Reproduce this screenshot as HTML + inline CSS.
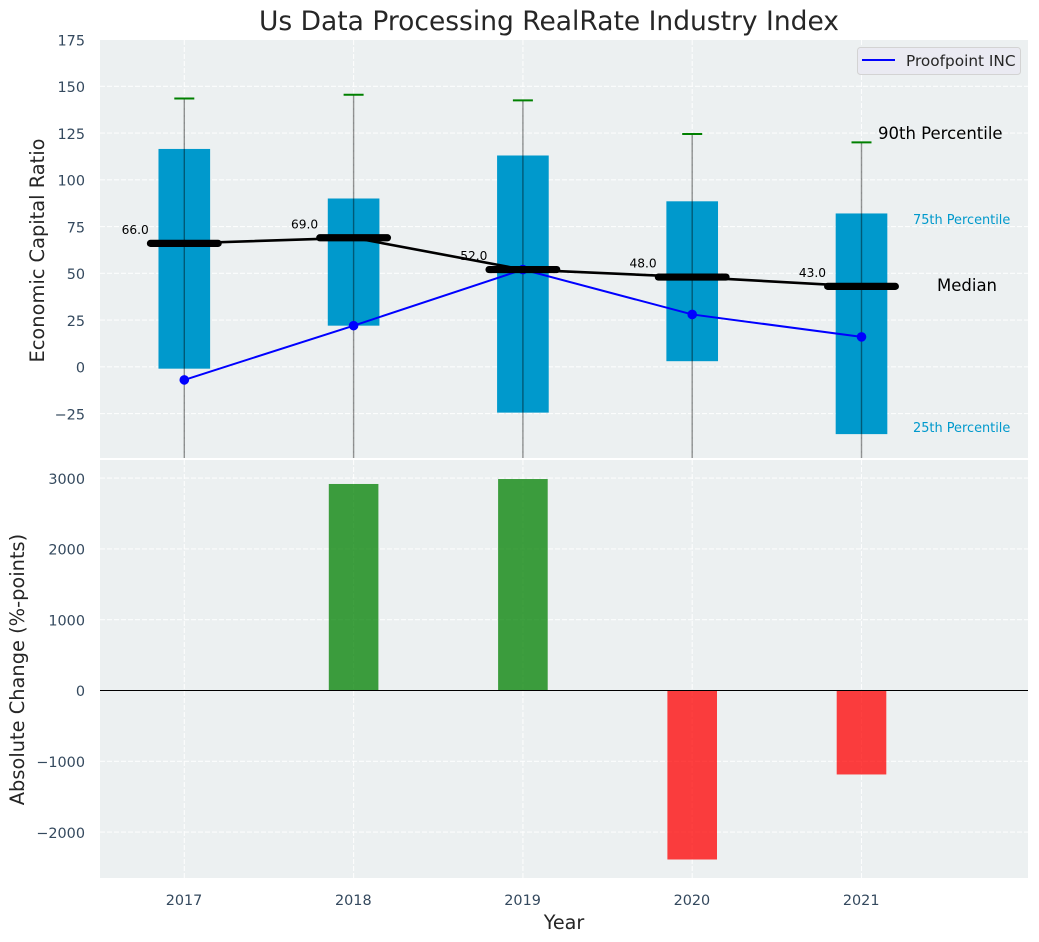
<!DOCTYPE html>
<html lang="en">
<head>
<meta charset="utf-8">
<title>Us Data Processing RealRate Industry Index</title>
<style>
html,body{margin:0;padding:0;background:#fff;width:1039px;height:942px;overflow:hidden}
svg{display:block}
text{font-family:"DejaVu Sans","Liberation Sans",sans-serif}
</style>
</head>
<body>
<svg id="chart" xmlns="http://www.w3.org/2000/svg" width="1039" height="942" viewBox="0 0 1039 942">
  <defs>
    <clipPath id="topClip"><rect x="100" y="40" width="928" height="418"/></clipPath>
    <clipPath id="bottomClip"><rect x="100" y="460" width="928" height="418"/></clipPath>
  </defs>
  <text x="549" y="30" text-anchor="middle" font-size="26.5" fill="#262626">Us Data Processing RealRate Industry Index</text>
  <rect x="100" y="40" width="928" height="418" fill="#ecf0f1"/>
  <rect x="100" y="460" width="928" height="418" fill="#ecf0f1"/>
  <g id="topGrid"></g>
  <g id="bottomGrid"></g>
  <g id="topMarks" clip-path="url(#topClip)"></g>
  <g id="bottomMarks" clip-path="url(#bottomClip)"></g>
  <g id="labels"></g>
  <text x="44" y="250.5" transform="rotate(-90 44 250.5)" text-anchor="middle" font-size="19.4" fill="#262626">Economic Capital Ratio</text>
  <text x="24" y="669.5" transform="rotate(-90 24 669.5)" text-anchor="middle" font-size="19.4" fill="#262626">Absolute Change (%-points)</text>
  <text x="564" y="929" text-anchor="middle" font-size="19.2" fill="#262626">Year</text>
  <text x="878" y="139" font-size="16.5" fill="#000">90th Percentile</text>
  <text x="913" y="224" font-size="12.9" fill="#0099cc">75th Percentile</text>
  <text x="937" y="291" font-size="16.5" fill="#000">Median</text>
  <text x="913" y="432" font-size="12.9" fill="#0099cc">25th Percentile</text>
  <g>
    <rect x="857.5" y="47.5" width="163" height="27" rx="3" fill="#eaeaf2" stroke="#d3d3d3"/>
    <line x1="862" y1="60" x2="895" y2="60" stroke="#0000ff" stroke-width="2"/>
    <text x="906" y="66" font-size="15.3" fill="#262626">Proofpoint INC</text>
  </g>
</svg>
<script>
const years = [2017, 2018, 2019, 2020, 2021];
const p90 = [143.5, 145.5, 142.5, 124.5, 120];
const p75 = [116.5, 90, 113, 88.5, 82];
const medians = [66, 69, 52, 48, 43];
const p25 = [-1, 22, -24.5, 3, -36];
const p10 = [-70, -70, -75, -60, -80];
const company = [-7, 22, 52, 28, 16];
const changes = [null, 2917, 2987, -2387, -1186];
const topTicks = [175, 150, 125, 100, 75, 50, 25, 0, -25];
const bottomTicks = [3000, 2000, 1000, 0, -1000, -2000];

const NS = 'http://www.w3.org/2000/svg';
const xScale = v => 184.3 + (v - 2017) * 169.3;
const yTop = v => 366.8 - v * 1.87;
const yBottom = v => 690.5 - v * 0.0708;
const widthX = w => w * 169.3;

function make(tag, attrs, parent) {
  const el = document.createElementNS(NS, tag);
  for (const k in attrs) el.setAttribute(k, attrs[k]);
  parent.appendChild(el);
  return el;
}

const topGrid = document.getElementById('topGrid');
const bottomGrid = document.getElementById('bottomGrid');
const topMarks = document.getElementById('topMarks');
const bottomMarks = document.getElementById('bottomMarks');
const labels = document.getElementById('labels');
const gridStyle = {stroke: '#ffffff', 'stroke-width': 1.1, 'stroke-dasharray': '5 2', 'stroke-opacity': 0.85};

topTicks.forEach(t => {
  const y = yTop(t);
  if (y > 41) {
    const g = make('line', {x1: 100, x2: 1028, y1: y, y2: y, ...gridStyle}, topGrid);
    
    
  }
  const l = make('text', {x: 85, y: y + 5.7, 'text-anchor': 'end', 'font-size': 14.4, fill: '#34495e'}, labels);
  
  
  l.textContent = String(t).replace('-', '\u2212');
});

bottomTicks.forEach(t => {
  const y = yBottom(t);
  const g = make('line', {x1: 100, x2: 1028, y1: y, y2: y, ...gridStyle}, bottomGrid);
  
  
  const l = make('text', {x: 85, y: y + 5.7, 'text-anchor': 'end', 'font-size': 14.4, fill: '#34495e'}, labels);
  
  
  l.textContent = String(t).replace('-', '\u2212');
});

years.forEach(yr => {
  const x = xScale(yr);
  const a = make('line', {x1: x, x2: x, y1: 40, y2: 458, ...gridStyle}, topGrid);
  
  
  const b = make('line', {x1: x, x2: x, y1: 460, y2: 878, ...gridStyle}, bottomGrid);
  
  
  const l = make('text', {x: x - 0.3, y: 905, 'text-anchor': 'middle', 'font-size': 14.4, fill: '#34495e'}, labels);
  
  
  l.textContent = yr;
});

years.forEach((yr, i) => {
  const x = xScale(yr);
  const bw = widthX(0.305);
  const box = make('rect', {x: x - bw / 2, y: yTop(p75[i]), width: bw, height: yTop(p25[i]) - yTop(p75[i]), fill: '#0099cc'}, topMarks);
  
  
  const w = make('line', {x1: x, x2: x, y1: yTop(p90[i]), y2: yTop(p10[i]), stroke: '#000', 'stroke-opacity': 0.42, 'stroke-width': 1.4}, topMarks);
  
  
  const c = make('line', {x1: x - 10, x2: x + 10, y1: yTop(p90[i]), y2: yTop(p90[i]), stroke: '#008000', 'stroke-width': 2}, topMarks);
  
  
});

const bluePts = years.map((yr, i) => xScale(yr) + ',' + yTop(company[i])).join(' ');
const blue = make('polyline', {points: bluePts, fill: 'none', stroke: '#0000ff', 'stroke-width': 2}, topMarks);


years.forEach((yr, i) => {
  const d = make('circle', {cx: xScale(yr), cy: yTop(company[i]), r: 4.8, fill: '#0000ff'}, topMarks);
  
  
});

years.forEach((yr, i) => {
  const t = make('text', {x: xScale(yr) - 35.5, y: yTop(medians[i]) - 9.5, 'text-anchor': 'end', 'font-size': 12.2, fill: '#000'}, topMarks);
  
  
  t.textContent = medians[i].toFixed(1);
});

const medPts = years.map((yr, i) => xScale(yr) + ',' + yTop(medians[i])).join(' ');
const medLine = make('polyline', {points: medPts, fill: 'none', stroke: '#000', 'stroke-width': 2.6}, topMarks);


years.forEach((yr, i) => {
  const x = xScale(yr);
  const half = widthX(0.2);
  const m = make('line', {x1: x - half, x2: x + half, y1: yTop(medians[i]), y2: yTop(medians[i]), stroke: '#000', 'stroke-width': 7.2, 'stroke-linecap': 'round'}, topMarks);
  
  
});

years.forEach((yr, i) => {
  if (changes[i] === null) return;
  const x = xScale(yr);
  const bw = widthX(0.293);
  const y0 = yBottom(0);
  const y1 = yBottom(changes[i]);
  const bar = make('rect', {x: x - bw / 2, y: Math.min(y0, y1), width: bw, height: Math.abs(y1 - y0), fill: changes[i] >= 0 ? '#008000' : '#ff0000', 'fill-opacity': 0.75}, bottomMarks);
  
  
});

const zero = make('line', {x1: 100, x2: 1028, y1: yBottom(0), y2: yBottom(0), stroke: '#000', 'stroke-width': 1.1}, bottomMarks);


</script>
</body>
</html>
